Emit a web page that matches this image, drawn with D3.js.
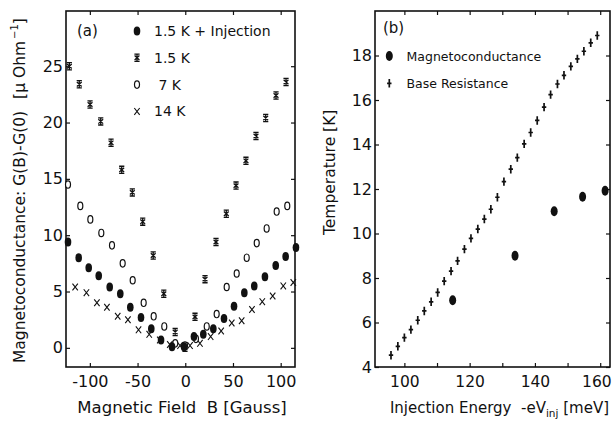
<!DOCTYPE html>
<html>
<head>
<meta charset="utf-8">
<script src="https://cdn.jsdelivr.net/npm/d3@7"></script>
<style>
  body { margin: 0; background: #fff; }
  svg { display: block; font-family: "DejaVu Sans", sans-serif; }
  text { fill: #111; }
</style>
</head>
<body>
<svg id="chart" width="612" height="424"></svg>
<script>
// ---- panel (a): magnetoconductance vs field ----
const fieldInj = [-122.9, -111.7, -101.2, -90.7, -79.2, -68.1, -57.6, -46.4, -35.6, -25.4, -13.9, -1.3,
  9.1, 18.9, 29.4, 40.6, 51.1, 61.9, 72.3, 83.5, 94.8, 105.2, 116.0];
const gInj = [9.4, 8.0, 7.1, 6.4, 5.4, 4.8, 3.6, 2.7, 1.7, 0.7, 0.1, 0.1,
  1.0, 1.2, 1.7, 2.6, 3.7, 4.9, 5.5, 6.3, 7.3, 8.1, 8.9];

const field15 = [-121.5, -111.1, -99.8, -88.6, -77.8, -66.6, -55.5, -44.6, -33.6, -22.5, -10.6, -0.3,
  10.2, 20.7, 32.2, 43.0, 53.2, 63.6, 74.1, 84.3, 95.1, 105.6];
const g15 = [25.0, 23.4, 21.6, 20.1, 18.2, 15.8, 13.8, 11.2, 8.2, 4.8, 1.4, 0.0,
  2.75, 6.1, 9.4, 11.9, 14.4, 16.6, 18.8, 20.4, 22.4, 23.6];

const field7 = [-122.9, -110.0, -99.5, -88.0, -76.8, -65.6, -55.1, -43.6, -33.1, -22.0, -10.5, -0.3,
  11.2, 22.5, 32.9, 43.4, 53.9, 64.4, 74.9, 85.3, 95.8, 106.9];
const g7 = [14.5, 12.6, 11.4, 10.2, 9.1, 7.5, 6.0, 4.0, 2.8, 1.9, 0.4, 0.2,
  0.8, 1.9, 3.0, 5.4, 6.6, 8.0, 9.3, 10.6, 12.1, 12.6];

const field14 = [-115.4, -103.6, -92.6, -82.1, -70.8, -60.1, -49.0, -37.8, -26.7, -16.2, -5.5,
  5.0, 15.4, 26.6, 37.6, 48.7, 59.1, 69.9, 80.7, 91.6, 102.7, 113.2];
const g14 = [5.4, 4.9, 4.0, 3.6, 2.8, 2.5, 1.6, 1.2, 0.7, 0.3, 0.2,
  0.2, 0.4, 1.0, 1.5, 2.2, 2.4, 3.4, 4.1, 4.6, 5.5, 5.8];

const legendA = ['1.5 K + Injection', '1.5 K', ' 7 K', '14 K'];
const xTicksA = [-100, -50, 0, 50, 100];
const yTicksA = [0, 5, 10, 15, 20, 25];

// ---- panel (b): temperature vs injection energy ----
const energyMC = [114.8, 133.9, 145.9, 154.6, 161.5];
const tempMC = [7.0, 9.0, 11.0, 11.65, 11.92];

const energyBR = [95.9, 98.0, 100.0, 102.0, 104.1, 106.1, 108.2, 110.2, 112.2, 114.3, 116.3, 118.4,
  120.4, 122.5, 124.5, 126.5, 128.5, 130.5, 132.6, 134.6, 136.7, 138.7, 140.7, 142.8,
  144.8, 146.9, 148.9, 151.0, 153.0, 155.0, 157.1, 159.1];
const tempBR = [4.53, 4.93, 5.32, 5.68, 6.10, 6.52, 6.93, 7.35, 7.86, 8.31, 8.77, 9.30,
  9.78, 10.20, 10.65, 11.09, 11.63, 12.33, 12.89, 13.41, 14.03, 14.54, 15.08, 15.68,
  16.24, 16.72, 17.11, 17.51, 17.85, 18.19, 18.57, 18.90];

const legendB = ['Magnetoconductance', 'Base Resistance'];
const xTicksB = [100, 110, 120, 130, 140, 150, 160];
const xLabelsB = [100, 120, 140, 160];
const yTicksB = [4, 6, 8, 10, 12, 14, 16, 18];

const svg = d3.select('#chart');
const plotTop = 11, plotBottom = 367;

// marker paths
const starPath = 'M-2.6,-3.6H2.6M-2.6,3.6H2.6M0,-3.6V3.6M-2.4,-2.2L2.4,2.2M2.4,-2.2L-2.4,2.2';
const crossPath = 'M-2.7,-3.4L2.7,3.4M2.7,-3.4L-2.7,3.4';
const plusPath = 'M0,-4.2V4.2M-2.2,0H2.2';

function frame(x, y, xTicks, yTicks, xLabels, xFont) {
  const g = svg.append('g');
  const [x0, x1] = x.range();
  const fmt = d => (xLabels ? (xLabels.includes(d) ? String(d) : '') : String(d));

  const bx = g.append('g')
    .attr('transform', `translate(0,${plotBottom})`)
    .call(d3.axisBottom(x).tickValues(xTicks).tickFormat(fmt).tickSizeInner(-4).tickSizeOuter(0).tickPadding(9))
    .call(a => a.select('.domain').remove());
  g.append('g')
    .attr('transform', `translate(0,${plotTop})`)
    .call(d3.axisTop(x).tickValues(xTicks).tickFormat('').tickSizeInner(-4).tickSizeOuter(0))
    .call(a => a.select('.domain').remove());
  g.append('g')
    .attr('transform', `translate(${x0},0)`)
    .call(d3.axisLeft(y).tickValues(yTicks).tickFormat(String).tickSizeInner(-4).tickSizeOuter(0).tickPadding(3))
    .call(a => a.select('.domain').remove());
  g.append('g')
    .attr('transform', `translate(${x1},0)`)
    .call(d3.axisRight(y).tickValues(yTicks).tickFormat('').tickSizeInner(-4).tickSizeOuter(0))
    .call(a => a.select('.domain').remove());

  g.selectAll('.tick line').attr('stroke', '#111').attr('stroke-width', 1.2);
  g.selectAll('.tick text')
    .attr('font-family', '"DejaVu Sans", sans-serif')
    .attr('font-size', 16)
    .attr('fill', '#111');
  if (xFont) bx.selectAll('.tick text').attr('font-size', xFont);
  return bx;
}

function border(x) {
  const [x0, x1] = x.range();
  svg.append('rect')
    .attr('x', x0).attr('y', plotTop)
    .attr('width', x1 - x0).attr('height', plotBottom - plotTop)
    .attr('fill', 'none').attr('stroke', '#111').attr('stroke-width', 1.6);
}

// ===== panel (a) =====
const xA = d3.scaleLinear().domain([-125, 115]).range([66, 295]);
const yA = d3.scaleLinear().domain([-1.7, 29.9]).range([plotBottom, plotTop]);
frame(xA, yA, xTicksA, yTicksA);
border(xA);

const pa = svg.append('g');
pa.selectAll('.c14').data(field14).join('path')
  .attr('d', crossPath)
  .attr('transform', (d, i) => `translate(${xA(d)},${yA(g14[i])})`)
  .attr('stroke', '#111').attr('stroke-width', 1.1).attr('fill', 'none');
pa.selectAll('.c15').data(field15).join('path')
  .attr('d', starPath)
  .attr('transform', (d, i) => `translate(${xA(d)},${yA(g15[i])})`)
  .attr('stroke', '#111').attr('stroke-width', 1.3).attr('fill', 'none');
pa.selectAll('.c7').data(field7).join('ellipse')
  .attr('cx', d => xA(d)).attr('cy', (d, i) => yA(g7[i]))
  .attr('rx', 2.5).attr('ry', 3.7)
  .attr('fill', '#fff').attr('stroke', '#111').attr('stroke-width', 1.2);
pa.selectAll('.cInj').data(fieldInj).join('ellipse')
  .attr('cx', d => xA(d)).attr('cy', (d, i) => yA(gInj[i]))
  .attr('rx', 3.3).attr('ry', 4.5)
  .attr('fill', '#111');

// legend (a)
const legA = svg.append('g');
legA.selectAll('text').data(legendA).join('text')
  .attr('x', 154).attr('y', (d, i) => 31 + i * 26.8)
  .attr('dy', '0.36em')
  .attr('font-size', 14)
  .style('white-space', 'pre')
  .text(d => d);
legA.append('ellipse').attr('cx', 137).attr('cy', 31).attr('rx', 3.3).attr('ry', 4.5).attr('fill', '#111');
legA.append('path').attr('d', starPath).attr('transform', 'translate(137,57.8)')
  .attr('stroke', '#111').attr('stroke-width', 1.3).attr('fill', 'none');
legA.append('ellipse').attr('cx', 137).attr('cy', 84.6).attr('rx', 2.5).attr('ry', 3.7)
  .attr('fill', 'none').attr('stroke', '#111').attr('stroke-width', 1.2);
legA.append('path').attr('d', crossPath).attr('transform', 'translate(137,111.4)')
  .attr('stroke', '#111').attr('stroke-width', 1.1).attr('fill', 'none');

svg.append('text').attr('x', 77).attr('y', 36).attr('font-size', 15).text('(a)');

svg.append('text')
  .attr('x', 182).attr('y', 413)
  .attr('text-anchor', 'middle').attr('font-size', 16.5)
  .style('white-space', 'pre')
  .text('Magnetic Field  B [Gauss]');

const yTitleA = svg.append('text')
  .attr('transform', 'translate(25,363) rotate(-90)')
  .attr('font-size', 15.5);
yTitleA.append('tspan').text('Magnetoconductance: G(B)-G(0)');
yTitleA.append('tspan').attr('dx', 12).text('[\u03bc Ohm');
yTitleA.append('tspan').attr('font-size', 10).attr('dy', -7).attr('dx', 2).text('\u22121');
yTitleA.append('tspan').attr('dy', 7).text(']');

// ===== panel (b) =====
const xB = d3.scaleLinear().domain([91, 163]).range([375, 610]);
const yB = d3.scaleLinear().domain([4, 20]).range([plotBottom, plotTop]);
const axB = frame(xB, yB, xTicksB, yTicksB, xLabelsB, 15.5);
// last label sits against the page edge, as in the original
axB.selectAll('.tick text').filter(d => d === 160)
  .attr('text-anchor', 'end').attr('dx', 11);
border(xB);

const pb = svg.append('g');
pb.selectAll('.br').data(energyBR).join('path')
  .attr('d', plusPath)
  .attr('transform', (d, i) => `translate(${xB(d)},${yB(tempBR[i])})`)
  .attr('stroke', '#111').attr('stroke-width', 1.7).attr('fill', 'none');
pb.selectAll('.mc').data(energyMC).join('ellipse')
  .attr('cx', d => xB(d)).attr('cy', (d, i) => yB(tempMC[i]))
  .attr('rx', 3.5).attr('ry', 5)
  .attr('fill', '#111');

// legend (b)
const legB = svg.append('g');
legB.selectAll('text').data(legendB).join('text')
  .attr('x', 406.5).attr('y', (d, i) => 56 + i * 27.3)
  .attr('dy', '0.36em')
  .attr('font-size', 12.5)
  .text(d => d);
legB.append('ellipse').attr('cx', 389.3).attr('cy', 56).attr('rx', 3.5).attr('ry', 5).attr('fill', '#111');
legB.append('path').attr('d', plusPath).attr('transform', 'translate(389.3,83.3)')
  .attr('stroke', '#111').attr('stroke-width', 1.7).attr('fill', 'none');

svg.append('text').attr('x', 383).attr('y', 33).attr('font-size', 15).text('(b)');

const xTitleB = svg.append('text')
  .attr('x', 609).attr('y', 413)
  .attr('text-anchor', 'end')
  .attr('font-size', 15)
  .style('white-space', 'pre');
xTitleB.append('tspan').text('Injection Energy  -eV');
xTitleB.append('tspan').attr('font-size', 10.5).attr('dy', 4).text('inj');
xTitleB.append('tspan').attr('dy', -4).text(' [meV]');

svg.append('text')
  .attr('transform', 'translate(335,235) rotate(-90)')
  .attr('font-size', 15.5)
  .text('Temperature [K]');
</script>
</body>
</html>
